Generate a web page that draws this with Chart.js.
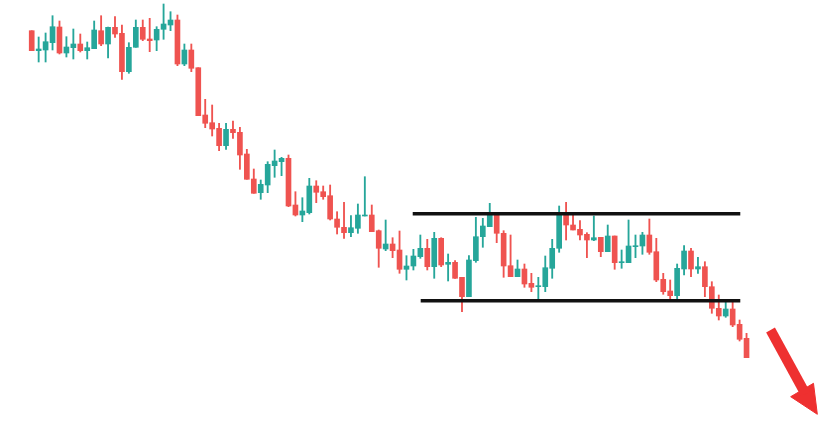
<!DOCTYPE html>
<html>
<head>
<meta charset="utf-8">
<script src="https://cdn.jsdelivr.net/npm/chart.js@4/dist/chart.umd.min.js"></script>
<style>
  html, body { margin: 0; padding: 0; background: #fff; }
  #wrap { width: 833px; height: 421px; position: relative; }
</style>
</head>
<body>
<div id="wrap"><canvas id="chart"></canvas></div>
<script>
"use strict";

/*-- candle data (one candle per period, oldest first) --*/
var opens  = [390.3,370.3,371,378.3,394,368,373.3,377,370.3,372.3,390.3,377,393.7,387.7,349.3,373.7,393.7,382,381,391.7,396,401,357,371,353.3,
  306,298.3,292.7,275.3,291.7,288.7,267,242,228.3,236,255.3,259.3,262.7,216,206,208.3,235,229.3,225.3,202,193.7,188.3,192.7,205,206,
  190.3,172,177,171,151.7,155,164.3,172.7,154.3,182.7,156.7,158.7,143.7,124.3,160.3,184.3,194.3,206.7,187.7,155.3,144.3,152,137.7,134.3,134.3,
  152.7,172.7,207,196,191.7,186.7,181,183.7,169.3,185,158.3,158.3,174.3,175,186,169.3,141.7,130,125.3,152,170,152,154.3,134.3,112.7,
  105,112,96.7,82.7];
var highs  = [390.3,384,388,405.3,400,384.3,392,387,379,400,405.3,394,404.3,396,378.3,401,401,402.7,394.3,417,409.3,406,377,377,353.3,
  321.7,316,297.7,297.7,300,293.7,271.7,252,241,259.3,271,263.7,266,229.3,223.3,242.7,240.3,235,236,209.3,218.7,205.3,217,244.3,216,
  191,201,183.3,190,165.3,171.7,186,181.7,188.7,183.3,167,160.3,143.7,165.3,203.7,202.7,217.7,206.7,190.3,186,161,157,147.7,143.7,165,
  181.7,215,218.7,207,200.3,188.3,205,183.7,196,185,171,201,186,188.7,202,182.7,147.7,141,157,175.3,172.7,163.7,159.3,139.3,126,
  121.7,121,101,87.7];
var lows   = [370.3,359,359,371,367,364,362,369,362,372.3,375.3,363,383.7,341.7,347.7,373.7,380.3,369.3,370.3,381.7,390.3,355.3,355.3,349.3,305.3,
  293.3,285,270.3,271.7,282.7,251.7,241.7,227.7,221.7,228.3,243.7,245.3,214.3,205,199.3,207,218.3,221.7,201,187,182.7,184.3,187.7,205,189.3,
  153.7,170.3,163.3,147.7,141,151,162.7,151,142.7,154.3,140,142.7,109.3,124.3,158.7,173.7,194.3,178.3,143.7,144.3,144.3,133.7,129.3,121,129.3,
  142.7,168.7,181,191,181,163.3,180.3,164.3,169.3,151.7,152.7,158.3,163.3,166.7,166.7,139.3,126.7,121,121,146,144.3,147.7,124.3,107.7,101,
  103.7,94.3,80,63.3];
var closes = [370.3,372,379.3,394.3,368,374,377,370.3,373.3,391,377,393.7,387,349.3,373.7,393.7,381.7,380.3,391.7,397,401,357,371,352.7,305.3,
  297.7,292,275.3,291.7,288.3,266,241.7,227.7,236.7,256.7,260,262.7,215,206,210,235,228.7,224.3,202,193.7,188.3,193.3,206,206,189.3,
  172.7,177,170.3,151.7,155,165,172.7,154.3,182.7,156,158.7,142.7,124.3,161,184.3,195,206.7,187.7,155,144.3,152,137,133.7,135.3,153.3,
  172.7,206,196,191,186,181,183.3,169.3,185,158.3,159.3,175,175.3,186,168.7,141,129.3,125.3,152.7,170,152,154.3,134.3,112.7,105,
  112,96,81.7,63.3];

/*-- range lines and arrow (index, price) --*/
var resistance = { from: 54.9, to: 102.1, level: 207.3 };
var support    = { from: 56.05, to: 102.1, level: 120.3 };
var arrowShaft = [[106.46, 91], [111.5, 27]];
var arrowHead  = [[109.36, 24.3], [113.2, 6.7], [112.65, 37.7], [109.36, 24.3]];

var UP = '#26a69a';
var DOWN = '#ef5350';
var ARROW = '#ee3030';

var wicks = [], bodies = [], colors = [];
for (var i = 0; i < opens.length; i++) {
  wicks.push({ x: i, y: [lows[i], highs[i]] });
  var lo = Math.min(opens[i], closes[i]);
  var hi = Math.max(opens[i], closes[i]);
  if (hi - lo < 1) { hi = lo + 1; }
  bodies.push({ x: i, y: [lo, hi] });
  colors.push(closes[i] >= opens[i] ? UP : DOWN);
}

function pts(list) {
  return list.map(function (p) { return { x: p[0], y: p[1] }; });
}

new Chart(document.getElementById('chart').getContext('2d'), {
  type: 'bar',
  data: {
    datasets: [{
      type: 'line',
      data: [{ x: resistance.from, y: resistance.level }, { x: resistance.to, y: resistance.level }],
      borderColor: '#111',
      borderWidth: 3.5,
      pointRadius: 0,
      order: 0
    }, {
      type: 'line',
      data: [{ x: support.from, y: support.level }, { x: support.to, y: support.level }],
      borderColor: '#111',
      borderWidth: 3.5,
      pointRadius: 0,
      order: 0
    }, {
      type: 'line',
      data: pts(arrowShaft),
      borderColor: ARROW,
      borderWidth: 10,
      borderCapStyle: 'butt',
      pointRadius: 0,
      order: 0
    }, {
      type: 'line',
      data: pts(arrowHead),
      borderColor: ARROW,
      backgroundColor: ARROW,
      borderWidth: 1,
      fill: 'shape',
      pointRadius: 0,
      order: 0
    }, {
      data: bodies,
      backgroundColor: colors,
      barThickness: 5,
      grouped: false,
      order: 1
    }, {
      data: wicks,
      backgroundColor: colors,
      barThickness: 1.2,
      grouped: false,
      order: 2
    }]
  },
  options: {
    responsive: true,
    maintainAspectRatio: false,
    animation: false,
    layout: { padding: 0 },
    plugins: { legend: { display: false }, tooltip: { enabled: false } },
    scales: {
      x: { type: 'linear', display: false, offset: false, min: -4.57, max: 115.46 },
      y: { display: false, min: 0, max: 421 }
    }
  }
});
</script>
</body>
</html>
